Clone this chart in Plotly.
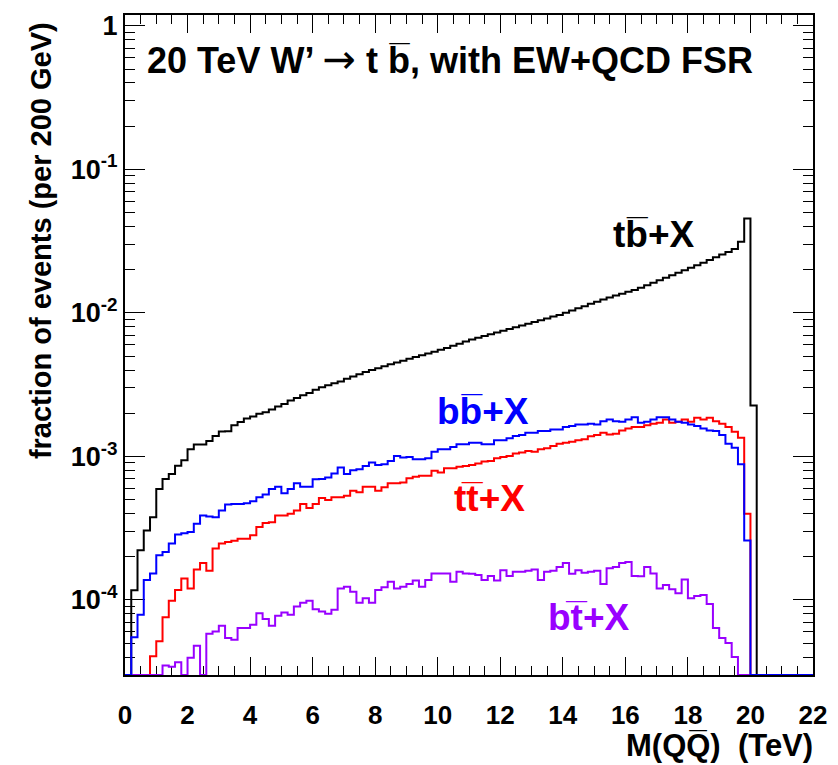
import math
import plotly.graph_objects as go

# ---------------- data (fraction of events per 200 GeV bin, 0..22 TeV) ----------------
bin_edges = [round(0.2 * i, 1) for i in range(111)]

tb_X = [0, 1.17e-4, 2.22e-4, 3.05e-4, 3.77e-4, 5.93e-4, 6.95e-4, 7.53e-4, 8.6e-4, 9.4e-4,
        1.12e-3, 1.21e-3, 1.21e-3, 1.28e-3, 1.39e-3, 1.49e-3, 1.50e-3, 1.65e-3, 1.74e-3, 1.84e-3,
        1.90e-3, 1.98e-3, 2.03e-3, 2.12e-3, 2.23e-3, 2.32e-3, 2.45e-3, 2.55e-3, 2.67e-3, 2.77e-3,
        2.92e-3, 3.03e-3, 3.13e-3, 3.24e-3, 3.33e-3, 3.48e-3, 3.61e-3, 3.73e-3, 3.87e-3, 4.00e-3,
        4.12e-3, 4.25e-3, 4.38e-3, 4.51e-3, 4.65e-3, 4.79e-3, 4.92e-3, 5.07e-3, 5.21e-3, 5.37e-3,
        5.53e-3, 5.70e-3, 5.90e-3, 6.10e-3, 6.31e-3, 6.52e-3, 6.71e-3, 6.90e-3, 7.10e-3, 7.29e-3,
        7.50e-3, 7.71e-3, 7.93e-3, 8.17e-3, 8.40e-3, 8.65e-3, 8.89e-3, 9.14e-3, 9.42e-3, 9.68e-3,
        1.002e-2, 1.04e-2, 1.076e-2, 1.114e-2, 1.156e-2, 1.197e-2, 1.242e-2, 1.282e-2, 1.321e-2, 1.361e-2,
        1.403e-2, 1.445e-2, 1.496e-2, 1.556e-2, 1.622e-2, 1.690e-2, 1.758e-2, 1.832e-2, 1.905e-2, 1.982e-2,
        2.061e-2, 2.148e-2, 2.234e-2, 2.333e-2, 2.438e-2, 2.547e-2, 2.661e-2, 2.786e-2, 3.13e-2, 4.54e-2,
        2.26e-3, 0, 0, 0, 0, 0, 0, 0, 0, 0]

bb_X = [0, 5.49e-5, 7.88e-5, 1.375e-4, 1.53e-4, 2.05e-4, 2.16e-4, 2.47e-4, 2.86e-4, 2.92e-4,
        2.97e-4, 3.39e-4, 3.87e-4, 3.81e-4, 3.77e-4, 4.20e-4, 4.62e-4, 4.67e-4, 4.67e-4, 4.72e-4,
        4.87e-4, 5.19e-4, 5.42e-4, 5.93e-4, 6.15e-4, 5.53e-4, 5.93e-4, 6.49e-4, 6.15e-4, 6.15e-4,
        6.92e-4, 6.95e-4, 7.14e-4, 7.61e-4, 8.37e-4, 7.53e-4, 8.02e-4, 8.15e-4, 8.59e-4, 9.06e-4,
        8.73e-4, 8.83e-4, 9.31e-4, 1.008e-3, 9.82e-4, 9.92e-4, 9.56e-4, 9.56e-4, 9.71e-4, 1.080e-3,
        1.121e-3, 1.121e-3, 1.164e-3, 1.214e-3, 1.214e-3, 1.247e-3, 1.247e-3, 1.214e-3, 1.214e-3, 1.294e-3,
        1.294e-3, 1.336e-3, 1.387e-3, 1.41e-3, 1.462e-3, 1.462e-3, 1.502e-3, 1.502e-3, 1.542e-3, 1.542e-3,
        1.601e-3, 1.626e-3, 1.670e-3, 1.670e-3, 1.687e-3, 1.670e-3, 1.761e-3, 1.808e-3, 1.761e-3, 1.742e-3,
        1.808e-3, 1.876e-3, 1.714e-3, 1.742e-3, 1.808e-3, 1.876e-3, 1.876e-3, 1.808e-3, 1.742e-3, 1.714e-3,
        1.670e-3, 1.626e-3, 1.567e-3, 1.518e-3, 1.502e-3, 1.41e-3, 1.227e-3, 1.151e-3, 8.83e-4, 2.60e-4,
        0, 0, 0, 0, 0, 0, 0, 0, 0, 0]

tt_X = [0, 0, 0, 0, 4.05e-5, 5.15e-5, 7.59e-5, 9.89e-5, 1.173e-4, 1.41e-4,
        1.204e-4, 1.63e-4, 1.81e-4, 1.60e-4, 2.28e-4, 2.47e-4, 2.53e-4, 2.58e-4, 2.67e-4, 2.67e-4,
        2.82e-4, 3.22e-4, 3.43e-4, 3.48e-4, 3.87e-4, 3.87e-4, 3.98e-4, 4.20e-4, 4.67e-4, 4.38e-4,
        4.67e-4, 5.14e-4, 4.97e-4, 5.19e-4, 5.19e-4, 5.33e-4, 5.77e-4, 5.62e-4, 6.15e-4, 6.15e-4,
        5.77e-4, 6.09e-4, 6.49e-4, 6.49e-4, 6.59e-4, 7.06e-4, 7.21e-4, 7.33e-4, 7.33e-4, 7.94e-4,
        7.73e-4, 8.28e-4, 8.28e-4, 8.46e-4, 8.59e-4, 8.73e-4, 8.92e-4, 9.21e-4, 9.31e-4, 9.71e-4,
        9.92e-4, 1.008e-3, 1.046e-3, 1.063e-3, 1.092e-3, 1.080e-3, 1.121e-3, 1.14e-3, 1.182e-3, 1.227e-3,
        1.247e-3, 1.267e-3, 1.294e-3, 1.315e-3, 1.38e-3, 1.41e-3, 1.462e-3, 1.424e-3, 1.44e-3, 1.518e-3,
        1.567e-3, 1.601e-3, 1.601e-3, 1.652e-3, 1.687e-3, 1.714e-3, 1.808e-3, 1.714e-3, 1.742e-3, 1.808e-3,
        1.742e-3, 1.857e-3, 1.808e-3, 1.857e-3, 1.761e-3, 1.687e-3, 1.601e-3, 1.486e-3, 1.350e-3, 3.98e-4,
        0, 0, 0, 0, 0, 0, 0, 0, 0, 0]

bt_X = [0, 0, 0, 0, 0, 0, 3.49e-5, 3.42e-5, 3.68e-5, 0,
        3.95e-5, 4.80e-5, 0, 5.82e-5, 6.04e-5, 6.61e-5, 5.44e-5, 5.29e-5, 6.37e-5, 6.37e-5,
        6.71e-5, 8.09e-5, 7.36e-5, 6.61e-5, 7.76e-5, 8.17e-5, 7.88e-5, 8.99e-5, 9.58e-5, 9.89e-5,
        8.62e-5, 8.30e-5, 8.00e-5, 8.53e-5, 1.204e-4, 1.237e-4, 1.142e-4, 9.58e-5, 1.027e-4, 9.58e-5,
        1.173e-4, 1.224e-4, 1.34e-4, 1.204e-4, 1.237e-4, 1.29e-4, 1.365e-4, 1.237e-4, 1.375e-4, 1.53e-4,
        1.53e-4, 1.53e-4, 1.34e-4, 1.57e-4, 1.53e-4, 1.52e-4, 1.49e-4, 1.375e-4, 1.47e-4, 1.365e-4,
        1.61e-4, 1.47e-4, 1.57e-4, 1.57e-4, 1.60e-4, 1.63e-4, 1.375e-4, 1.57e-4, 1.60e-4, 1.70e-4,
        1.81e-4, 1.52e-4, 1.61e-4, 1.55e-4, 1.57e-4, 1.60e-4, 1.29e-4, 1.66e-4, 1.70e-4, 1.81e-4,
        1.84e-4, 1.47e-4, 1.46e-4, 1.70e-4, 1.53e-4, 1.204e-4, 1.27e-4, 1.185e-4, 1.112e-4, 1.39e-4,
        1.027e-4, 1.066e-4, 1.083e-4, 9.38e-5, 6.37e-5, 5.44e-5, 5.01e-5, 4.01e-5, 0, 0,
        0, 0, 0, 0, 0, 0, 0, 0, 0, 0]

x_ticks = list(range(0, 23, 2))
y_ticks = [1e-4, 1e-3, 1e-2, 1e-1, 1]
y_tick_text = ["10<sup>-4</sup>", "10<sup>-3</sup>", "10<sup>-2</sup>", "10<sup>-1</sup>", "1"]

# ---------------- style ----------------
YMIN, YMAX = 3e-5, 1.19
FONT = "Liberation Sans, Arial, Helvetica, sans-serif"
OV = "\u0305"  # combining overline

series = [
    ("tb_X", tb_X, "#000000"),
    ("tt_X", tt_X, "#ff0000"),
    ("bt_X", bt_X, "#9900ff"),
    ("bb_X", bb_X, "#0000ff"),
]

fig = go.Figure()
for name, vals, col in series:
    ys = [max(v, YMIN) for v in vals]
    ys = ys + [ys[-1]]
    fig.add_trace(go.Scatter(x=bin_edges, y=ys, mode="lines", name=name,
                             line=dict(color=col, width=2, shape="hv"),
                             showlegend=False, hoverinfo="skip"))

minor_y = [k * 10 ** e for e in range(-5, 1) for k in range(2, 10)
           if YMIN <= k * 10 ** e <= YMAX]
minor_x = [0.5 * i for i in range(45)]

fig.update_layout(
    width=838, height=765,
    margin=dict(l=125, r=23, t=11, b=90),
    paper_bgcolor="white", plot_bgcolor="white",
    font=dict(family=FONT, color="black"),
    xaxis=dict(range=[0, 22], tickvals=x_ticks, ticks="inside", ticklen=18, tickwidth=1,
               tickcolor="black", showline=True, linewidth=2, linecolor="black",
               mirror="allticks", showgrid=False, zeroline=False,
               tickfont=dict(size=26, family=FONT, weight="bold"),
               ticklabelstandoff=16,
               minor=dict(tickvals=minor_x, ticks="inside", ticklen=9, tickwidth=1,
                          tickcolor="black", showgrid=False),
               layer="below traces"),
    yaxis=dict(type="log", range=[math.log10(YMIN), math.log10(YMAX)],
               tickvals=y_ticks, ticktext=y_tick_text, ticks="inside", ticklen=20,
               tickwidth=1, tickcolor="black", showline=True, linewidth=2,
               linecolor="black", mirror="allticks", showgrid=False, zeroline=False,
               tickfont=dict(size=27, family=FONT, weight="bold"),
               minor=dict(tickvals=minor_y, ticks="inside", ticklen=10, tickwidth=1,
                          tickcolor="black", showgrid=False),
               layer="below traces"),
)

def ann(text, x, y, size, color="black", xanchor="center", yanchor="middle", angle=0):
    fig.add_annotation(text=text, x=x, y=y, xref="paper", yref="paper",
                       xanchor=xanchor, yanchor=yanchor, showarrow=False,
                       textangle=angle,
                       font=dict(size=size, color=color, family=FONT, weight="bold"))

ann("20 TeV W\u2019 <span style=\"font-family:'DejaVu Sans';font-size:40px;font-weight:normal\">\u2192</span> t b"
    + OV + ", with EW+QCD FSR", 0.029, 0.934, 36, xanchor="left")
ann("tb" + OV + "+X", 0.7696, 0.667, 37)
ann("bb" + OV + "+X", 0.520, 0.399, 37, color="#0000ff")
ann("tt" + OV + "+X", 0.530, 0.268, 37, color="#ff0000")
ann("bt" + OV + "+X", 0.674, 0.087, 37, color="#9900ff")
ann("M(QQ" + OV + ")  (TeV)", 1.003, -0.137, 31, xanchor="right", yanchor="bottom")
ann("fraction of events (per 200 GeV)", -0.123, 0.658, 29, angle=-90)

fig.write_html("out.html")
